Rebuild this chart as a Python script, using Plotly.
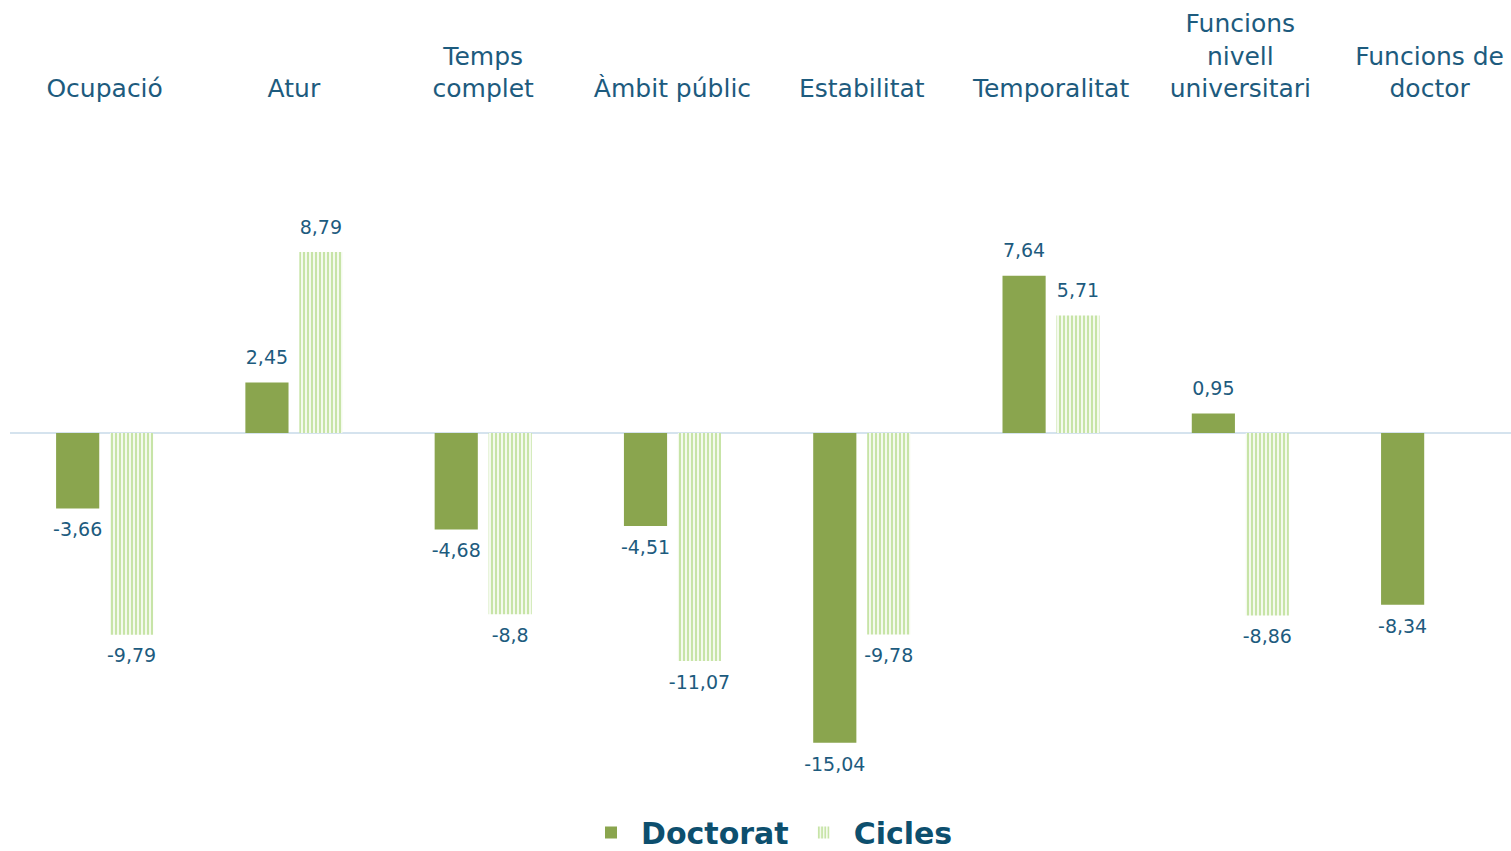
import plotly.graph_objects as go

categories = ["Ocupació", "Atur", "Temps<br>complet", "Àmbit públic", "Estabilitat",
              "Temporalitat", "Funcions<br>nivell<br>universitari", "Funcions de<br>doctor"]
doctorat = [-3.66, 2.45, -4.68, -4.51, -15.04, 7.64, 0.95, -8.34]
cicles = [-9.79, 8.79, -8.8, -11.07, -9.78, 5.71, -8.86, None]


def fmt(v):
    if v is None:
        return ""
    return ("%g" % v).replace(".", ",")


def pos(vals):
    return ["top center" if (v is not None and v > 0) else "bottom center" for v in vals]


label_color = "#1d5b7e"
fig = go.Figure()
fig.add_trace(go.Bar(
    name="Doctorat", x=categories, y=doctorat, offsetgroup="d",
    marker=dict(color="#8aa54e", line=dict(width=0)),
))
fig.add_trace(go.Bar(
    name="Cicles", x=categories, y=cicles, offsetgroup="c",
    marker=dict(color="white", line=dict(width=0),
                pattern=dict(shape="|", fgcolor="#8fc94f", bgcolor="white", size=4, solidity=0.6)),
))
for name, vals, grp in [("Doctorat", doctorat, "d"), ("Cicles", cicles, "c")]:
    fig.add_trace(go.Scatter(
        x=categories, y=vals, mode="markers+text", offsetgroup=grp,
        marker=dict(size=20, opacity=0), showlegend=False, hoverinfo="skip",
        text=[fmt(v) for v in vals], textposition=pos(vals),
        textfont=dict(family="DejaVu Sans", size=19, color=label_color),
        cliponaxis=False,
    ))

fig.update_layout(
    width=1511, height=851,
    margin=dict(l=10, r=0, t=103, b=61, autoexpand=False),
    paper_bgcolor="white", plot_bgcolor="white",
    barmode="group", bargap=0.43, bargroupgap=0.2,
    scattermode="group", scattergap=0.43,
    showlegend=True,
    legend=dict(orientation="h", x=0.506, xanchor="center", y=-0.062, yanchor="middle",
                font=dict(family="DejaVu Sans", size=30, color="#0d4f6e", weight="bold"),
                itemwidth=50),
    xaxis=dict(side="top", showgrid=False, showline=False, ticks="", automargin=False,
               range=[-0.5, 7.43],
               tickfont=dict(family="DejaVu Sans", size=25, color=label_color)),
    yaxis=dict(range=[-17.33, 16.02], showgrid=False, showticklabels=False, ticks="",
               automargin=False,
               zeroline=True, zerolinecolor="#d5e3ee", zerolinewidth=1.5),
)

fig.write_html("out.html", config={"displayModeBar": False},
               post_script="document.body.style.margin='0';")
